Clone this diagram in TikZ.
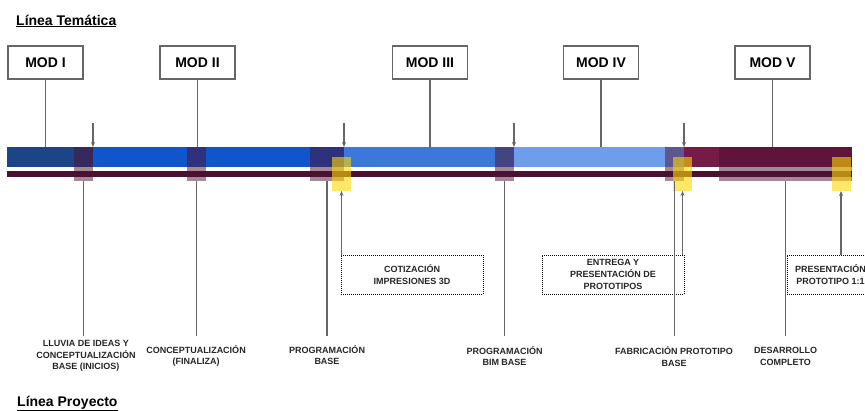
\documentclass[tikz,border=0pt]{standalone}
\usepackage{fontspec}
\setmainfont{Liberation Sans}
\usetikzlibrary{arrows.meta,positioning,calc}
\definecolor{bluea}{HTML}{1C4587}
\definecolor{blueb}{HTML}{1155CC}
\definecolor{bluec}{HTML}{3C78D8}
\definecolor{blued}{HTML}{6D9EEB}
\definecolor{magb}{HTML}{741B47}
\definecolor{magc}{HTML}{4C1130}
\definecolor{lngray}{HTML}{666666}
\definecolor{ylw}{HTML}{FFD800}
\tikzset{
  modblk/.style={draw=lngray,line width=1.4pt,fill=white,minimum width=75pt,minimum height=33pt,inner sep=0pt,font=\fontsize{14}{16}\selectfont\bfseries},
  ovlblk/.style={fill=magc,fill opacity=0.5,minimum height=34pt,inner sep=0pt,outer sep=0pt},
  ylwblk/.style={fill=ylw,fill opacity=0.6,minimum width=19pt,minimum height=34pt,inner sep=0pt,outer sep=0pt},
  dotblk/.style={draw,densely dotted,line width=1pt,minimum width=142pt,minimum height=39pt,inner sep=0pt,align=center,text=black!85,font=\fontsize{9}{11.7}\selectfont\bfseries},
  lbl/.style={align=center,inner sep=0pt,text=black!85,font=\fontsize{9}{11.7}\selectfont\bfseries},
  ttl/.style={anchor=base west,inner sep=0pt,font=\fontsize{14}{16}\selectfont\bfseries},
  ln/.style={draw=lngray,line width=1.5pt},
  arr/.style={ln,-{Stealth[length=5pt,width=4pt]}}
}

\begin{document}
\begin{tikzpicture}[x=1pt,y=-1pt]
  \useasboundingbox (0,0) rectangle (865,410);

  % titles
  \node[ttl] (ttlA) at (16,25) {\underline{Línea Temática}};
  \node[ttl] (ttlB) at (17,406) {\underline{Línea Proyecto}};

  % bars
  \foreach \xa/\xb/\c in {7/93/bluea,93/344/blueb,344/514/bluec,514/684/blued,684/852/magb}
    \fill[\c] (\xa,147) rectangle (\xb,167);
  \fill[magc] (7,171) rectangle (852,177);

  % modules
  \foreach \n/\x/\t in {1/45.5/I,2/197.5/II,3/430/III,4/601/IV,5/772.5/V}
    \node[modblk] (m\n) at (\x,62.5) {MOD \t};
  \coordinate (bartop) at (0,147);
  \foreach \n in {1,...,5}
    \draw[ln] (m\n.south) -- (m\n.south |- bartop);

  % overlays
  \foreach \n/\x/\w in {1/83.5/19pt,2/196.5/19pt,3/327/34pt,4/504.5/19pt,5/674.5/19pt,6/785.5/133pt}
    \node[ovlblk,minimum width=\w] (ov\n) at (\x,164) {};
  \foreach \n/\x in {1/341.5,2/682.5,3/841}
    \node[ylwblk] (y\n) at (\x,174) {};

  % arrows on top
  \foreach \o/\n in {ov1/1,ov3/2,ov4/3,ov5/4}{
    \coordinate (src\n) at ([yshift=24pt]\o.north east);
    \draw[arr] (src\n) -- (\o.north east);
  }

  % dotted boxes
  \node[dotblk] (d1) at (412,274.5) {COTIZACIÓN\\IMPRESIONES 3D};
  \node[dotblk] (d2) at (613,274.5) {ENTREGA Y\\PRESENTACIÓN DE\\PROTOTIPOS};
  \node[dotblk,minimum width=87pt] (d3) at (830.5,274.5) {PRESENTACIÓN\\PROTOTIPO 1:1};
  \foreach \n in {1,2,3}
    \draw[arr] (y\n.south |- d\n.north) -- (y\n.south);

  % lower labels
  \coordinate (lnend) at (0,336);
  \foreach \n in {1,...,6}
    \draw[ln] (ov\n.south) -- (ov\n.south |- lnend);
  \node[lbl] (l1) at (86,356) {LLUVIA DE IDEAS Y\\CONCEPTUALIZACIÓN\\BASE (INICIOS)};
  \node[lbl] (l2) at (196,356) {CONCEPTUALIZACIÓN\\(FINALIZA)};
  \node[lbl] (l3) at (327,355) {PROGRAMACIÓN\\BASE};
  \node[lbl] (l4) at (504.5,356) {PROGRAMACIÓN\\BIM BASE};
  \node[lbl] (l5) at (674,356.5) {FABRICACIÓN PROTOTIPO\\BASE};
  \node[lbl] (l6) at (785.5,356.5) {DESARROLLO\\COMPLETO};
\end{tikzpicture}
\end{document}
